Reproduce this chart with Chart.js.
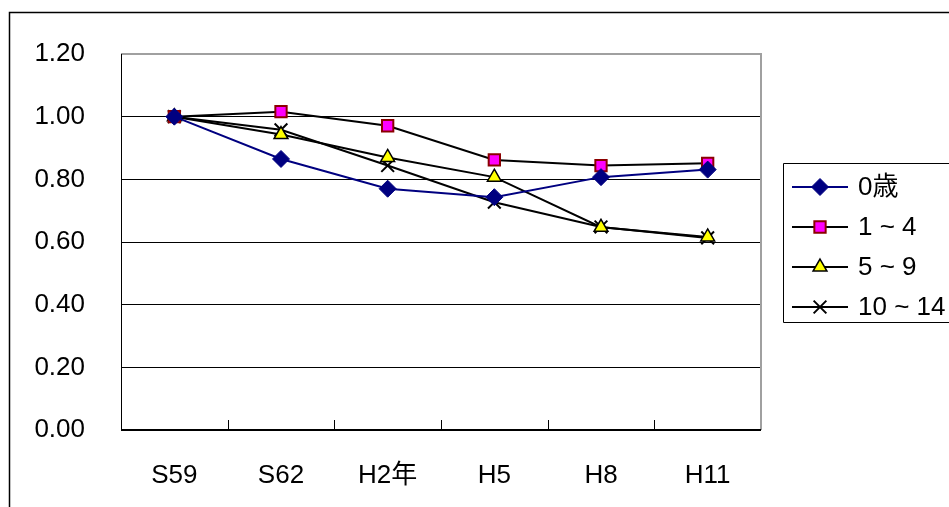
<!DOCTYPE html>
<html>
<head>
<meta charset="utf-8">
<script src="https://cdn.jsdelivr.net/npm/chart.js@4/dist/chart.umd.min.js"></script>
<style>
  html, body { margin: 0; padding: 0; background: #fff; }
  #wrap { width: 949px; height: 507px; position: relative; }
</style>
</head>
<body>
<div id="wrap"><canvas id="chart" width="949" height="507"></canvas></div>
<script>
// Data
var years = ['S59', 'S62', 'H2年', 'H5', 'H8', 'H11'];
var age0 = [1.00, 0.865, 0.770, 0.743, 0.807, 0.831];
var age1to4 = [1.00, 1.016, 0.971, 0.862, 0.844, 0.851];
var age5to9 = [1.00, 0.943, 0.870, 0.807, 0.647, 0.616];
var age10to14 = [1.00, 0.958, 0.844, 0.727, 0.648, 0.613];
var yTicks = ['0.00', '0.20', '0.40', '0.60', '0.80', '1.00', '1.20'];

var FONT = "'Liberation Sans', Arial, 'Noto Sans CJK JP', sans-serif";
var NAVY = '#000080';

// frame, plot border, inner tick marks and the line+marker legend
var decor = {
  id: 'decor',
  beforeDatasetsDraw: function(chart) {
    var ctx = chart.ctx, a = chart.chartArea;
    ctx.save();
    ctx.strokeStyle = '#a0a0a0';
    ctx.lineWidth = 2;
    ctx.beginPath();
    ctx.moveTo(a.left, a.top);
    ctx.lineTo(a.right, a.top);
    ctx.lineTo(a.right, a.bottom);
    ctx.stroke();

    ctx.strokeStyle = '#000';
    ctx.lineWidth = 1;
    ctx.beginPath();
    ctx.moveTo(a.left + 0.5, a.top);
    ctx.lineTo(a.left + 0.5, a.bottom);
    ctx.stroke();

    // inward tick marks between categories
    var xs = chart.scales.x;
    ctx.beginPath();
    for (var i = 0; i < years.length - 1; i++) {
      var px = Math.round((xs.getPixelForTick(i) + xs.getPixelForTick(i + 1)) / 2) + 0.5;
      ctx.moveTo(px, a.bottom);
      ctx.lineTo(px, a.bottom - 10);
    }
    ctx.stroke();
    ctx.lineWidth = 2;
    ctx.beginPath();
    ctx.moveTo(a.left, a.bottom);
    ctx.lineTo(a.right, a.bottom);
    ctx.stroke();
    ctx.restore();
  },
  afterDraw: function(chart) {
    var ctx = chart.ctx;
    ctx.save();
    // outer frame
    ctx.strokeStyle = '#000';
    ctx.lineWidth = 1.5;
    ctx.beginPath();
    ctx.moveTo(9.5, 520);
    ctx.lineTo(9.5, 12.5);
    ctx.lineTo(960, 12.5);
    ctx.stroke();

    // legend box
    ctx.lineWidth = 1;
    ctx.beginPath();
    ctx.moveTo(960, 163.5);
    ctx.lineTo(783.5, 163.5);
    ctx.lineTo(783.5, 322.5);
    ctx.lineTo(960, 322.5);
    ctx.stroke();

    chart.data.datasets.forEach(function(ds, i) {
      var y = 187 + i * 40;
      ctx.strokeStyle = ds.borderColor;
      ctx.lineWidth = ds.borderWidth;
      ctx.beginPath();
      ctx.moveTo(792, y);
      ctx.lineTo(848, y);
      ctx.stroke();
      ctx.fillStyle = ds.pointBackgroundColor;
      ctx.strokeStyle = ds.pointBorderColor;
      ctx.lineWidth = ds.pointBorderWidth;
      Chart.helpers.drawPoint(ctx, {
        pointStyle: ds.pointStyle,
        radius: ds.pointRadius,
        rotation: 0,
        borderWidth: ds.pointBorderWidth
      }, 820, y);
      ctx.fillStyle = '#000';
      ctx.font = '26px ' + FONT;
      ctx.textBaseline = 'middle';
      ctx.textAlign = 'left';
      ctx.fillText(ds.label, 858, y + 1);
    });
    ctx.restore();
  }
};

new Chart(document.getElementById('chart'), {
  type: 'line',
  data: {
    labels: years,
    datasets: [{
      label: '0歳',
      data: age0,
      borderColor: NAVY,
      borderWidth: 2,
      pointStyle: 'rectRot',
      pointRadius: 8.5,
      pointBackgroundColor: NAVY,
      pointBorderColor: NAVY,
      pointBorderWidth: 1
    }, {
      label: '1 ~ 4',
      data: age1to4,
      borderColor: '#000',
      borderWidth: 2,
      pointStyle: 'rect',
      pointRadius: 8,
      pointBackgroundColor: '#ff00ff',
      pointBorderColor: '#8b0000',
      pointBorderWidth: 2
    }, {
      label: '5 ~ 9',
      data: age5to9,
      borderColor: '#000',
      borderWidth: 2,
      pointStyle: 'triangle',
      pointRadius: 8,
      pointBackgroundColor: '#ffff00',
      pointBorderColor: '#000',
      pointBorderWidth: 1.5
    }, {
      label: '10 ~ 14',
      data: age10to14,
      borderColor: '#000',
      borderWidth: 2,
      pointStyle: 'crossRot',
      pointRadius: 9,
      pointBackgroundColor: '#000',
      pointBorderColor: '#000',
      pointBorderWidth: 2
    }]
  },
  options: {
    responsive: false,
    animation: false,
    events: [],
    layout: { padding: { left: 0, top: 54, right: 188, bottom: 0 } },
    plugins: {
      legend: { display: false },
      tooltip: { enabled: false }
    },
    elements: { line: { tension: 0 } },
    scales: {
      x: {
        offset: true,
        grid: { display: false },
        border: { display: false },
        ticks: {
          color: '#000',
          padding: 22,
          maxRotation: 0,
          font: { family: FONT, size: 26 }
        },
        afterFit: function(s) { s.height = 77; }
      },
      y: {
        min: 0,
        max: 1.2,
        grid: {
          color: function(c) {
            var v = c.tick ? c.tick.value : 0;
            return (v <= 0.001 || v >= 1.199) ? 'rgba(0,0,0,0)' : '#000';
          },
          lineWidth: 1,
          drawTicks: false
        },
        border: { display: false },
        ticks: {
          stepSize: 0.2,
          padding: 36,
          color: '#000',
          font: { family: FONT, size: 26 },
          callback: function(v, i) { return yTicks[i]; }
        },
        afterFit: function(s) { s.width = 121; }
      }
    }
  },
  plugins: [decor]
});
</script>
</body>
</html>
